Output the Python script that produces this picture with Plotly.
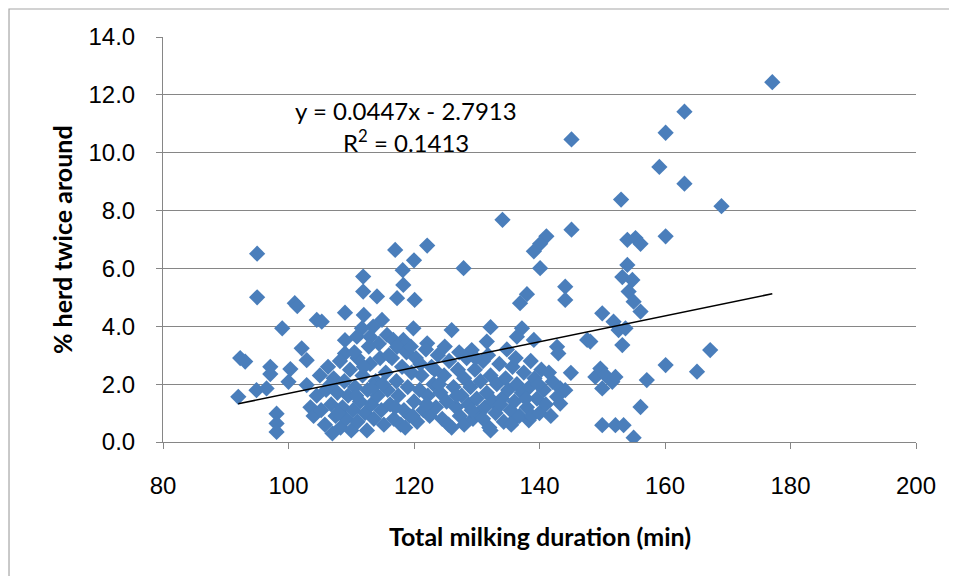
import plotly.graph_objects as go

# Total milking duration (min)
duration = [
    92.0, 92.3, 93.1, 94.9, 95.0, 95.0, 96.5, 97.1, 97.1, 98.1, 98.1, 98.1, 99.0, 100.0, 100.3,
    101.0, 101.4, 102.1, 102.9, 102.9,
    104.5, 105.3, 109.0, 109.0, 109.0, 111.9, 111.9, 114.1, 112.0, 114.9, 113.5, 111.7, 110.9,
    113.0, 115.7, 117.3, 118.3, 117.0, 122.1, 120.0, 118.2, 120.1, 119.9, 118.3, 116.7, 117.3,
    122.1, 127.9, 126.0, 132.2, 131.6, 129.2, 134.1, 137.2, 136.4, 139.1, 142.8, 143.0, 147.6,
    138.0, 136.9, 144.1, 144.1, 145.1, 145.1, 141.1, 140.1, 139.1, 140.1, 145.0, 142.1, 143.3,
    144.1, 142.8, 143.3, 135.9, 138.3, 132.2,
    148.1, 148.9, 149.7, 150.0, 150.0, 150.0, 150.5, 151.6, 151.8, 152.1, 152.1, 152.6, 153.0,
    153.2, 153.4, 153.7, 153.2, 154.0, 154.0, 154.8, 154.2, 155.0, 155.3, 156.1, 156.1, 155.0,
    156.1, 157.1, 159.1, 160.1, 160.1, 160.1, 163.1, 163.1, 165.1, 167.2, 169.0, 177.1,
    103.5, 104.0, 104.5, 105.0, 105.2, 105.8, 106.0, 106.3, 106.8, 107.0, 107.2, 107.5, 107.8,
    108.2, 108.3, 108.6, 108.9, 109.2, 109.5, 109.8, 110.0, 110.3, 110.6, 111.0, 111.0, 111.4,
    111.8, 112.2, 112.5, 112.6, 113.0, 113.2, 113.6, 113.9, 114.2, 114.6, 114.8, 115.2, 115.5,
    115.8,
    116.2, 116.5, 116.8, 117.2, 117.5, 117.9, 118.1, 118.4, 118.8, 119.0, 119.3, 119.6, 120.0,
    120.3, 120.5, 120.9, 121.2, 121.5, 121.9, 122.2, 122.5, 122.8, 123.1, 123.5, 123.8, 124.2,
    124.5, 124.8, 125.2, 125.6,
    126.0, 126.3, 126.7, 127.0, 127.3, 127.6, 128.0, 128.0, 128.4, 128.7, 129.0, 129.4, 129.7,
    130.0, 130.3, 130.6, 131.0, 131.3, 131.6, 132.0, 132.2, 132.6, 133.0, 133.2, 133.6, 134.0,
    134.3, 134.6, 135.0, 135.4, 135.7, 136.0, 136.4, 136.8, 137.2, 137.5, 138.0, 138.4, 138.8,
    139.2, 139.6, 140.0, 140.3, 140.7,
    110.5, 112.8, 114.4, 116.0, 119.5, 121.0, 123.3, 124.9, 127.2, 129.8, 131.8, 134.8, 136.2,
    138.6, 106.7, 108.0, 110.8, 113.5, 117.0, 119.8, 122.0, 124.0, 126.8, 129.2, 131.0, 133.8,
    135.5, 137.8, 139.8, 141.0, 141.5, 141.8, 125.5, 118.6, 115.0, 112.0,
]

# % herd twice around
twice_around = [
    1.56, 2.90, 2.78, 1.79, 6.51, 5.00, 1.85, 2.60, 2.35, 0.98, 0.64, 0.35, 3.93, 2.08, 2.52,
    4.80, 4.70, 3.24, 2.83, 1.97,
    4.22, 4.16, 4.47, 3.52, 3.06, 5.72, 5.20, 5.03, 4.39, 4.22, 3.99, 3.93, 3.64,
    3.64, 3.70, 4.97, 5.43, 6.64, 6.79, 6.28, 5.94, 4.91, 3.93, 3.53, 3.53, 3.29,
    3.41, 6.01, 3.87, 3.97, 3.47, 3.18, 7.68, 3.93, 3.64, 3.53, 3.29, 3.06, 3.53,
    5.11, 4.80, 5.37, 4.91, 10.46, 7.34, 7.11, 6.85, 6.59, 6.01, 2.39, 2.08, 1.85,
    1.79, 1.56, 1.33, 0.75, 0.75, 0.40,
    3.47, 2.25, 2.54, 4.45, 1.85, 0.58, 2.31, 2.08, 4.16, 2.25, 0.58, 3.87, 8.38,
    3.35, 0.58, 3.93, 5.70, 6.12, 6.99, 5.60, 5.20, 4.85, 7.05, 6.85, 4.51, 0.15,
    1.21, 2.14, 9.51, 10.69, 7.11, 2.66, 11.42, 8.93, 2.43, 3.18, 8.15, 12.44,
    1.20, 0.90, 1.60, 2.30, 1.10, 0.60, 1.80, 2.60, 1.30, 0.30, 2.20, 0.90, 1.70,
    2.80, 0.50, 1.20, 2.10, 0.80, 1.60, 2.50, 0.40, 1.10, 1.90, 2.90, 0.70, 1.40,
    2.30, 1.00, 0.40, 1.80, 2.70, 1.30, 0.80, 2.10, 1.60, 2.90, 1.10, 0.60, 2.40,
    1.80,
    1.30, 2.90, 0.80, 2.10, 1.60, 0.60, 2.60, 1.10, 3.10, 1.90, 0.90, 2.40, 1.40,
    2.90, 0.70, 1.80, 2.30, 1.10, 3.20, 1.60, 0.90, 2.60, 2.00, 1.20, 3.00, 1.70,
    0.80, 2.30, 1.40, 2.80,
    0.50, 1.90, 1.20, 2.50, 0.90, 1.60, 2.20, 0.60, 2.90, 1.30, 1.90, 0.80, 2.50,
    1.50, 1.00, 2.10, 2.80, 1.20, 1.70, 0.50, 2.30, 1.40, 1.00, 2.00, 2.70, 1.50,
    0.70, 2.20, 1.80, 1.10, 2.60, 1.40, 2.00, 0.90, 1.70, 2.40, 1.20, 1.90, 0.90,
    2.20, 1.50, 1.00, 2.50, 1.80,
    3.10, 3.30, 3.40, 3.00, 3.30, 2.70, 2.50, 3.30, 3.10, 2.90, 3.00, 3.20, 2.90,
    2.80, 2.00, 1.00, 1.60, 1.90, 1.20, 0.90, 1.30, 2.00, 1.60, 1.10, 0.80, 1.30,
    0.60, 1.50, 2.00, 1.30, 2.40, 0.90, 0.60, 0.50, 2.00, 2.60,
]

# Linear trendline (as printed on the chart)
trend_slope = 0.0447
trend_intercept = -2.7913
trend_x = [92.0, 177.1]
trend_y = [trend_slope * x + trend_intercept for x in trend_x]

x_ticks = [80, 100, 120, 140, 160, 180, 200]
y_ticks = [0, 2, 4, 6, 8, 10, 12, 14]

fig = go.Figure()
fig.add_trace(go.Scatter(
    x=duration, y=twice_around, mode="markers",
    marker=dict(symbol="diamond", size=12.5, color="#4a7ebb", line=dict(width=0)),
    showlegend=False, hoverinfo="x+y",
))
fig.add_trace(go.Scatter(
    x=trend_x, y=trend_y, mode="lines",
    line=dict(color="black", width=1.5), showlegend=False, hoverinfo="skip",
))

tick_font = dict(family="Liberation Sans, Arial, sans-serif", size=24, color="black")
label_font = dict(family="Lato, Liberation Sans, sans-serif", size=25, color="black")
eq_font = dict(family="Lato, Liberation Sans, sans-serif", size=24, color="black")

fig.update_layout(
    width=957, height=576,
    margin=dict(l=155, r=49, t=29, b=142),
    paper_bgcolor="white", plot_bgcolor="white",
    xaxis=dict(
        range=[80, 200], tickvals=x_ticks, ticktext=[str(v) for v in x_ticks],
        showgrid=False, zeroline=False, showline=True, linecolor="#868686", linewidth=1,
        ticks="outside", ticklen=6, tickcolor="#868686", tickfont=tick_font,
        ticklabelstandoff=16,
    ),
    yaxis=dict(
        range=[0, 14], tickvals=y_ticks, ticktext=[f"{v:.1f}" for v in y_ticks],
        showgrid=True, gridcolor="#868686", gridwidth=1, zeroline=False,
        showline=True, linecolor="#868686", linewidth=1,
        ticks="outside", ticklen=6, tickcolor="#868686", tickfont=tick_font,
        ticklabelstandoff=16,
    ),
    shapes=[dict(
        type="rect", xref="paper", yref="paper",
        x0=-0.2045, x1=1.069, y0=-0.40, y1=1.0691,
        line=dict(color="#a6a6a6", width=1.2), fillcolor="rgba(0,0,0,0)", layer="above",
    )],
    annotations=[
        dict(text="<b>Total milking duration (min)</b>", xref="paper", yref="paper",
             x=0.5007, y=-0.232, xanchor="center", yanchor="middle", showarrow=False,
             font=label_font),
        dict(text="<b>% herd twice around</b>", xref="paper", yref="paper",
             x=-0.134, y=0.499, xanchor="center", yanchor="middle", showarrow=False,
             textangle=-90, font=label_font),
        dict(text="y = 0.0447x - 2.7913", xref="x", yref="y", x=118.8, y=11.46,
             xanchor="center", yanchor="middle", showarrow=False, font=eq_font),
        dict(text="R<sup>2</sup> = 0.1413", xref="x", yref="y", x=118.8, y=10.39,
             xanchor="center", yanchor="middle", showarrow=False, font=eq_font),
    ],
)

fig.write_html("out.html")
